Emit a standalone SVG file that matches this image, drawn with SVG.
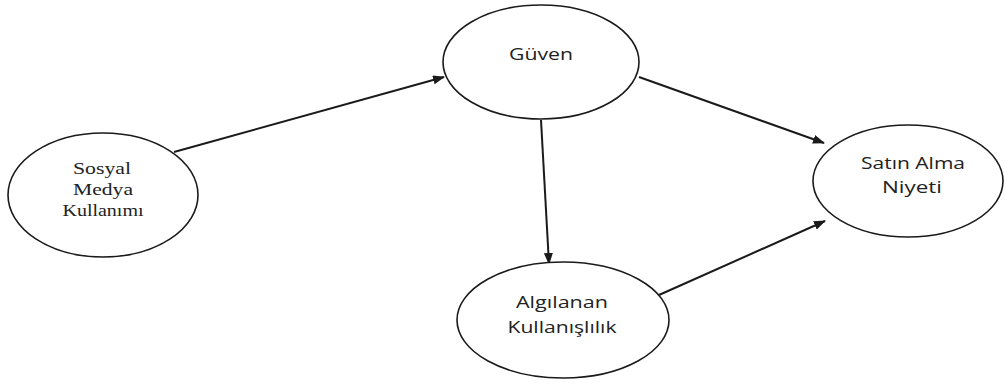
<svg xmlns="http://www.w3.org/2000/svg" width="1005" height="388" viewBox="0 0 1005 388">
<defs>
<style>
.n{fill:#fff;stroke:#1a1a1a;stroke-width:1.6}
.c{stroke:#1a1a1a;stroke-width:2;fill:none;marker-end:url(#ah)}
.s{font-family:"Open Sans","Noto Sans",sans-serif;font-size:17px;fill:#222;text-anchor:middle}
.r{font-family:"Liberation Serif",serif;font-size:16px;fill:#222;text-anchor:middle}
</style>
<marker id="ah" viewBox="0 0 12 9" refX="11" refY="4.5" markerWidth="12" markerHeight="9" markerUnits="userSpaceOnUse" orient="auto">
<path d="M0,0 L12,4.5 L0,9 z" fill="#1a1a1a"/>
</marker>
</defs>
<rect width="1005" height="388" fill="#fff"/>
<g id="connectors">
<line class="c" x1="174" y1="152" x2="444" y2="77"/>
<line class="c" x1="639" y1="77" x2="824" y2="143"/>
<line class="c" x1="541" y1="120" x2="549" y2="264"/>
<line class="c" x1="659" y1="295" x2="825" y2="221"/>
</g>
<g id="sosyal">
<ellipse class="n" cx="103" cy="195" rx="95" ry="62"/>
<text class="r" x="102" y="174" textLength="58" lengthAdjust="spacingAndGlyphs">Sosyal</text>
<text class="r" x="103" y="195" textLength="60" lengthAdjust="spacingAndGlyphs">Medya</text>
<text class="r" x="103" y="216" textLength="81" lengthAdjust="spacingAndGlyphs">Kullanımı</text>
</g>
<g id="guven">
<ellipse class="n" cx="541" cy="62" rx="98" ry="57"/>
<text class="s" x="541" y="60" textLength="64" lengthAdjust="spacingAndGlyphs">Güven</text>
</g>
<g id="satin">
<ellipse class="n" cx="908" cy="181" rx="95" ry="56"/>
<text class="s" x="913" y="169" textLength="104" lengthAdjust="spacingAndGlyphs">Satın Alma</text>
<text class="s" x="912" y="193" textLength="60" lengthAdjust="spacingAndGlyphs">Niyeti</text>
</g>
<g id="algilanan">
<ellipse class="n" cx="563" cy="320" rx="106" ry="58"/>
<text class="s" x="562" y="308" textLength="92" lengthAdjust="spacingAndGlyphs">Algılanan</text>
<text class="s" x="562" y="333" textLength="109" lengthAdjust="spacingAndGlyphs">Kullanışlılık</text>
</g>
</svg>
